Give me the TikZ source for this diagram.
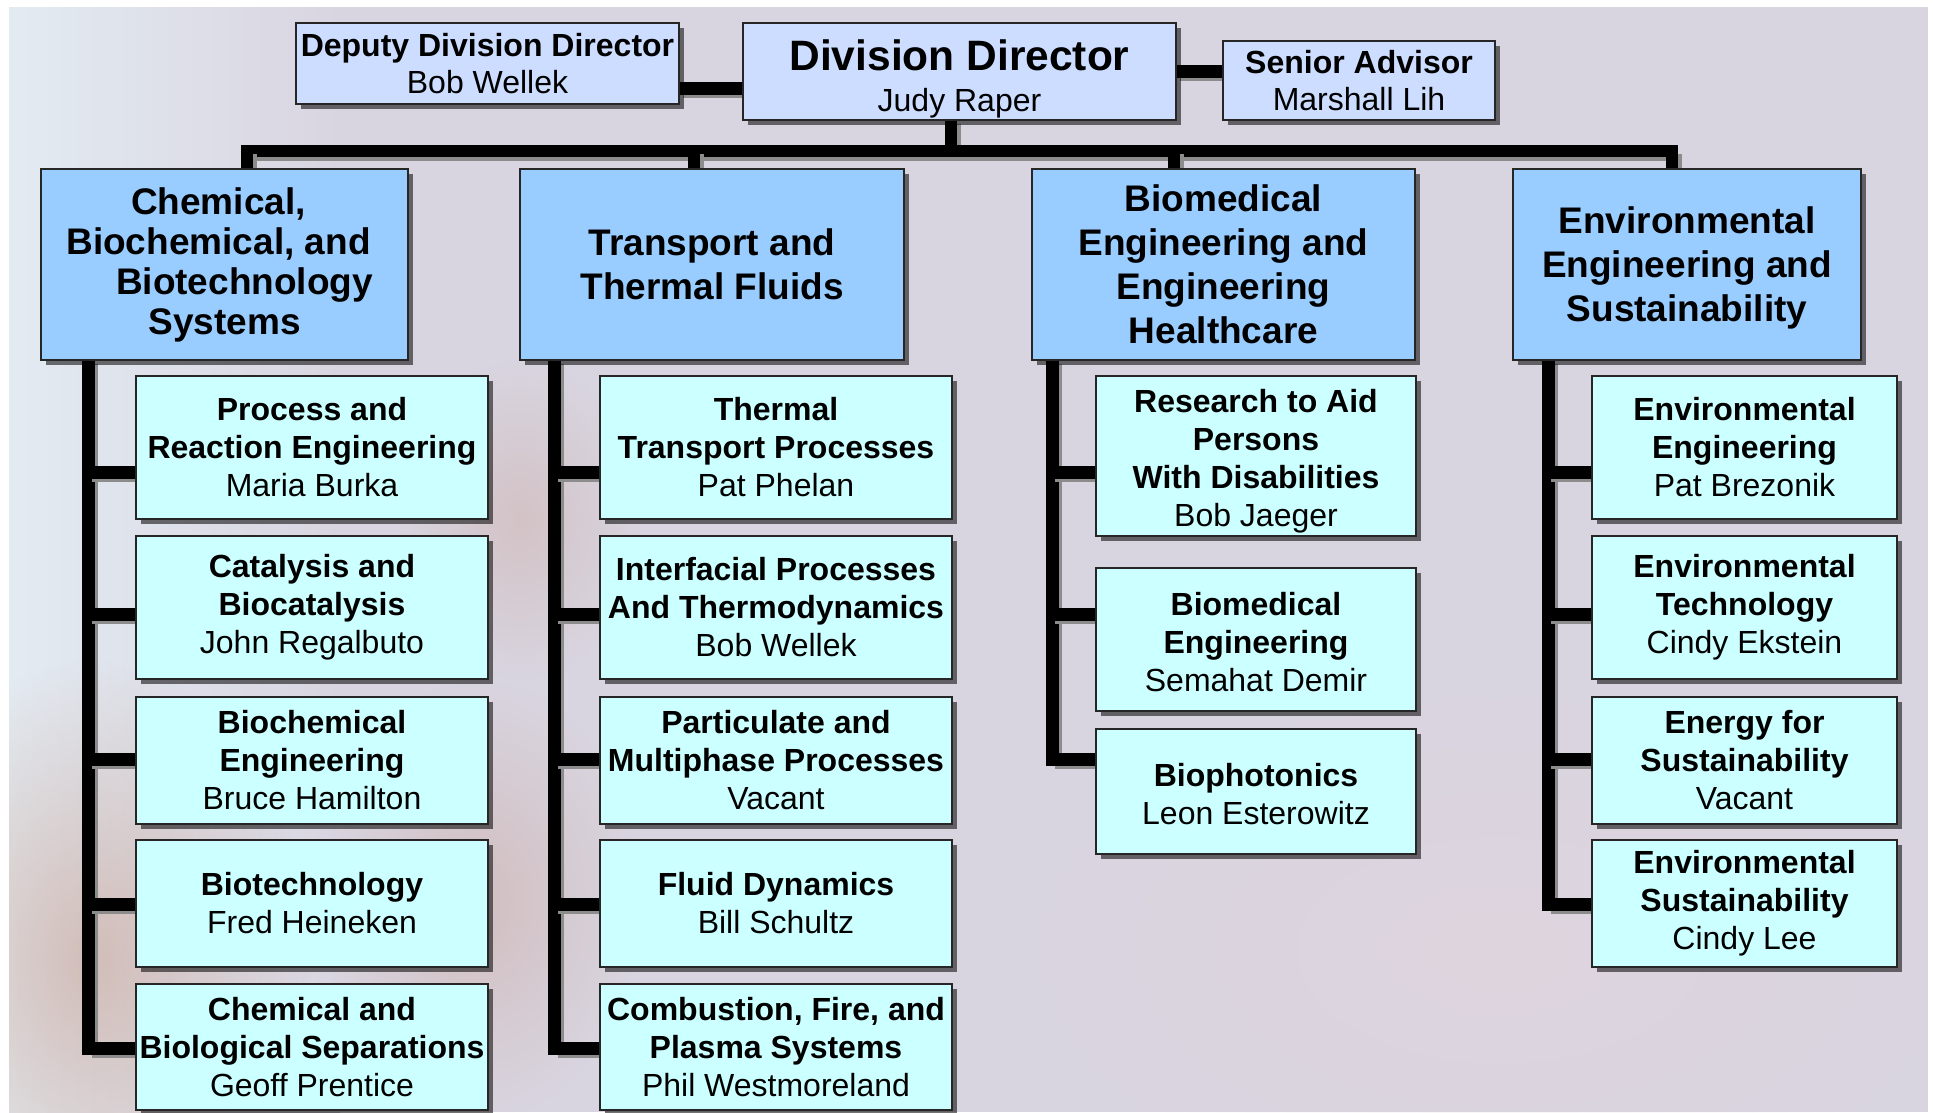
\documentclass[tikz,border=0pt]{standalone}
\usepackage{fontspec}
\setmainfont{Liberation Sans}
\usetikzlibrary{shadows,calc,fadings}
\pgfdeclarelayer{back}
\pgfdeclarelayer{lines}
\pgfsetlayers{back,lines,main}
\definecolor{topfill}{HTML}{CCDDFF}
\definecolor{headfill}{HTML}{99CCFF}
\definecolor{subfill}{HTML}{CCFFFF}
\definecolor{bgbase}{HTML}{D9D5E0}
\definecolor{bgleft}{HTML}{E3EBF2}
\definecolor{bgred}{HTML}{C08C78}
\definecolor{bgpink}{HTML}{E2D4DE}
\tikzfading[name=softblob, inner color=transparent!0, outer color=transparent!100]
\tikzset{
  box/.style={draw=black!85, line width=1.8pt, inner sep=0pt, align=center,
    drop shadow={shadow xshift=5pt, shadow yshift=-5pt, fill=black, opacity=0.55}},
  topbox/.style={box, fill=topfill, font=\fontsize{32}{37}\selectfont},
  headbox/.style={box, fill=headfill, minimum height=191pt, font=\fontsize{37}{44}\selectfont\bfseries},
  subbox/.style={box, fill=subfill, font=\fontsize{32}{38}\selectfont},
  conn/.style={line width=13pt, line cap=rect, draw=black,
    preaction={draw=black!45, line width=13pt, transform canvas={xshift=3pt,yshift=-3pt}}},
  busline/.style={conn, line width=12pt,
    preaction={draw=black!45, line width=12pt, transform canvas={xshift=3pt,yshift=-3pt}}},
  blob/.style={path fading=softblob},
}
\begin{document}
\begin{tikzpicture}[x=1pt,y=-1pt]
\useasboundingbox (0,0) rectangle (1933,1112);
\begin{pgfonlayer}{back}
  \begin{scope}
    \clip (9,7) rectangle (1928,1112);
    \fill[bgbase] (9,7) rectangle (1928,1112);
    \shade[left color=bgleft, right color=bgbase] (9,7) rectangle (340,1112);
    \fill[bgred, blob, opacity=0.45] (90,960) ellipse (220 and 300);
    \fill[bgred, blob, opacity=0.3] (480,900) ellipse (160 and 220);
    \fill[bgred, blob, opacity=0.25] (520,520) ellipse (120 and 160);
    \fill[bgpink, blob, opacity=0.6] (1500,950) ellipse (450 and 250);
  \end{scope}
\end{pgfonlayer}

% top row
\node[topbox, minimum width=383pt, minimum height=81pt] (dep) at (487.5,63.5)
  {\textbf{Deputy Division Director}\\Bob Wellek};
\node[topbox, minimum width=433pt, minimum height=97pt, font=\fontsize{32}{41}\selectfont] (dir) at (959.5,71.5)
  {\rule{0pt}{45pt}{\fontsize{42.5}{44}\selectfont\bfseries Division Director}\\Judy Raper};
\node[topbox, minimum width=272pt, minimum height=79pt] (sen) at (1359,80.5)
  {\textbf{Senior Advisor}\\Marshall Lih};

% column headers
\node[headbox, minimum width=367pt, font=\fontsize{37}{40}\selectfont\bfseries] (h1) at (224.5,264.5)
  {Chemical,\kern12pt\\Biochemical, and\kern12pt\\\kern40pt Biotechnology\\Systems};
\node[headbox, minimum width=384pt] (h2) at (712,264.5) {Transport and\\Thermal Fluids};
\node[headbox, minimum width=383pt] (h3) at (1223.5,264.5) {Biomedical\\Engineering and\\Engineering\\Healthcare};
\node[headbox, minimum width=348pt] (h4) at (1687,264.5) {\rule{0pt}{34.5pt}Environmental\\Engineering and\\Sustainability};

% column 1
\node[subbox, minimum width=352pt, minimum height=143pt] (s11) at (312,447.5)
  {\textbf{Process and}\\\textbf{Reaction Engineering}\\Maria Burka};
\node[subbox, minimum width=352pt, minimum height=143pt] (s12) at (312,607.5)
  {\textbf{Catalysis and}\\\textbf{Biocatalysis}\\John Regalbuto};
\node[subbox, minimum width=352pt, minimum height=127pt] (s13) at (312,760.5)
  {\textbf{Biochemical}\\\textbf{Engineering}\\Bruce Hamilton};
\node[subbox, minimum width=352pt, minimum height=127pt] (s14) at (312,903.5)
  {\textbf{Biotechnology}\\Fred Heineken};
\node[subbox, minimum width=352pt, minimum height=126pt] (s15) at (312,1047)
  {\textbf{Chemical and}\\\textbf{Biological Separations}\\Geoff Prentice};

% column 2
\node[subbox, minimum width=352pt, minimum height=143pt] (s21) at (776,447.5)
  {\textbf{Thermal}\\\textbf{Transport Processes}\\Pat Phelan};
\node[subbox, minimum width=352pt, minimum height=143pt] (s22) at (776,607.5)
  {\textbf{Interfacial Processes}\\\textbf{And Thermodynamics}\\Bob Wellek};
\node[subbox, minimum width=352pt, minimum height=127pt] (s23) at (776,760.5)
  {\textbf{Particulate and}\\\textbf{Multiphase Processes}\\Vacant};
\node[subbox, minimum width=352pt, minimum height=127pt] (s24) at (776,903.5)
  {\textbf{Fluid Dynamics}\\Bill Schultz};
\node[subbox, minimum width=352pt, minimum height=126pt] (s25) at (776,1047)
  {\textbf{Combustion, Fire, and}\\\textbf{Plasma Systems}\\Phil Westmoreland};

% column 3
\node[subbox, minimum width=320pt, minimum height=160pt] (s31) at (1256,456)
  {\rule{0pt}{33.5pt}\textbf{Research to Aid}\\\textbf{Persons}\\\textbf{With Disabilities}\\Bob Jaeger};
\node[subbox, minimum width=320pt, minimum height=143pt] (s32) at (1256,639.5)
  {\rule{0pt}{28.5pt}\textbf{Biomedical}\\\textbf{Engineering}\\Semahat Demir};
\node[subbox, minimum width=320pt, minimum height=125pt] (s33) at (1256,791.5)
  {\rule{0pt}{28.5pt}\textbf{Biophotonics}\\Leon Esterowitz};

% column 4
\node[subbox, minimum width=305pt, minimum height=143pt] (s41) at (1744.5,447.5)
  {\textbf{Environmental}\\\textbf{Engineering}\\Pat Brezonik};
\node[subbox, minimum width=305pt, minimum height=143pt] (s42) at (1744.5,607.5)
  {\textbf{Environmental}\\\textbf{Technology}\\Cindy Ekstein};
\node[subbox, minimum width=305pt, minimum height=127pt] (s43) at (1744.5,760.5)
  {\textbf{Energy for}\\\textbf{Sustainability}\\Vacant};
\node[subbox, minimum width=305pt, minimum height=127pt] (s44) at (1744.5,903.5)
  {\textbf{Environmental}\\\textbf{Sustainability}\\Cindy Lee};

% helper coordinates
\coordinate (ya) at (0,88.5);
\coordinate (yb) at (0,71.5);
\coordinate (bus) at (0,151);
\coordinate (stub) at (951,0);
\coordinate (d1) at (247,0);
\coordinate (d2) at (694,0);
\coordinate (d3) at (1174,0);
\coordinate (d4) at (1672,0);
\coordinate (v1) at (88.5,0);
\coordinate (v2) at (554.5,0);
\coordinate (v3) at (1052,0);
\coordinate (v4) at (1548,0);
\coordinate (b1) at (0,472);
\coordinate (b2) at (0,614);
\coordinate (b3) at (0,759);
\coordinate (b4) at (0,904);
\coordinate (b5) at (0,1048);

\begin{pgfonlayer}{lines}
  \draw[conn] (dep.east |- ya) -- (dir.west |- ya);
  \draw[conn] (dir.east |- yb) -- (sen.west |- yb);
  \draw[busline] (stub |- dir.south) -- (stub |- bus);
  \draw[busline] (d1 |- bus) -- (d4 |- bus);
  \foreach \d/\h in {d1/h1,d2/h2,d3/h3,d4/h4}
    \draw[busline] (\d |- bus) -- (\d |- \h.north);
  % column 1
  \draw[conn] (v1 |- h1.south) -- (v1 |- b5);
  \foreach \s/\b in {s11/b1,s12/b2,s13/b3,s14/b4,s15/b5}
    \draw[conn] (v1 |- \b) -- (\s.west |- \b);
  % column 2
  \draw[conn] (v2 |- h2.south) -- (v2 |- b5);
  \foreach \s/\b in {s21/b1,s22/b2,s23/b3,s24/b4,s25/b5}
    \draw[conn] (v2 |- \b) -- (\s.west |- \b);
  % column 3
  \draw[conn] (v3 |- h3.south) -- (v3 |- b3);
  \foreach \s/\b in {s31/b1,s32/b2,s33/b3}
    \draw[conn] (v3 |- \b) -- (\s.west |- \b);
  % column 4
  \draw[conn] (v4 |- h4.south) -- (v4 |- b4);
  \foreach \s/\b in {s41/b1,s42/b2,s43/b3,s44/b4}
    \draw[conn] (v4 |- \b) -- (\s.west |- \b);
\end{pgfonlayer}
\end{tikzpicture}
\end{document}
